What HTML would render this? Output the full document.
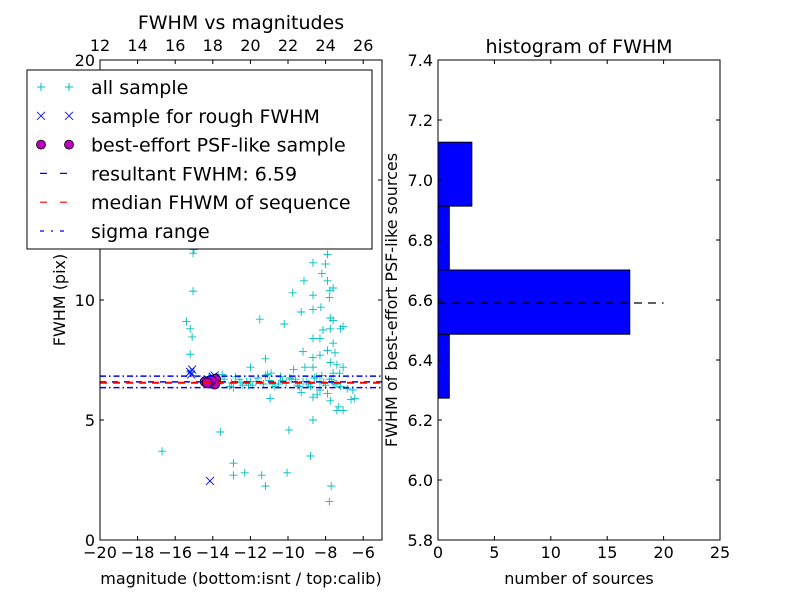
<!DOCTYPE html>
<html><head><meta charset="utf-8">
<style>
body{margin:0;background:#fff;}
svg text{font-family:"DejaVu Sans","Liberation Sans",sans-serif;fill:#000;}
</style></head>
<body>
<svg id="fig" width="800" height="600" xmlns="http://www.w3.org/2000/svg">
<rect width="800" height="600" fill="#fff"/>
<g id="left"></g>
<g id="right"></g>
</svg>
<script>
// ---- scatter data ----
const allX = [-15.05,-15.0,-15.05,-15.4,-15.2,-15.1,-15.2,-15.2,-16.7,-13.6,-12.9,-12.9,-12.3,-11.4,-11.2,-10.05,-9.95,-8.8,-8.67,-7.7,-7.8,-11.5,-10.2,-11.2,-12.0,-9.75,-9.15,-9.3,-8.67,-8.67,-8.67,-8.25,-8.0,-7.9,-8.2,-7.9,-7.77,-7.8,-7.6,-7.75,-7.6,-7.75,-8.14,-8.3,-8.67,-7.2,-7.07,-7.6,-7.5,-7.9,-9.2,-8.67,-8.3,-7.75,-7.4,-7.07,-9.7,-9.1,-8.67,-7.6,-7.25,-10.95,-8.67,-7.9,-7.75,-7.3,-7.4,-7.07,-6.65,-6.45,-6.55,-6.85,-7.2,-8.3,-8.45,-9.3,
-13.7,-13.4,-13.1,-12.8,-12.5,-12.2,-11.9,-11.6,-11.3,-11.0,-10.7,-10.4,-10.1,-9.8,-9.5,-9.2,-8.9,-8.6,-8.3,-8.0,-7.7,-7.4,-13.5,-13.0,-12.6,-12.1,-11.7,-11.2,-10.8,-10.3,-9.9,-9.4,-9.0,-8.5,-8.1,-7.8,-7.5,-12.9,-12.0,-11.1,-10.5,-9.6,-8.8,-8.2,-7.6,-14.2,-13.9,-12.4,-10.9];
const allY = [11.95,12.1,10.37,9.1,8.8,8.46,7.74,7.0,3.7,4.5,3.2,2.7,2.8,2.7,2.25,2.8,4.58,3.5,5.0,2.25,1.6,9.2,9.0,7.55,7.2,10.3,10.8,9.5,11.55,10.2,9.6,9.7,11.5,11.9,11.1,10.8,10.4,10.1,10.5,9.25,9.15,8.8,8.75,8.4,8.4,8.8,8.9,8.2,7.8,7.9,7.85,7.6,7.7,7.4,7.3,7.2,7.1,7.2,7.2,6.95,6.95,5.9,5.95,6.1,5.8,5.55,5.4,5.4,5.85,5.9,6.25,6.3,6.4,6.25,6.05,6.15,
6.5,6.7,6.4,6.8,6.55,6.6,6.45,6.75,6.5,6.65,6.4,6.8,6.55,6.7,6.45,6.6,6.5,6.75,6.6,6.45,6.7,6.5,6.9,6.55,6.7,6.45,6.6,6.85,6.5,6.65,6.75,6.4,6.6,6.8,6.55,6.7,6.5,6.35,6.6,6.9,6.5,6.7,6.4,6.85,6.55,6.8,6.75,6.45,6.95];
const roughX = [-15.2,-15.1,-15.15,-14.15,-14.0,-13.9,-14.3,-14.1];
const roughY = [7.0,7.1,6.9,2.46,6.8,6.85,6.6,6.65];
const bestX = [-14.4,-14.2,-14.0,-13.85,-13.9,-14.1,-14.3];
const bestY = [6.6,6.55,6.6,6.7,6.5,6.65,6.55];
const resultFWHM = 6.59;
const medianFWHM = 6.55;
const sigmaRange = [6.35,6.83];
const xTicks = [-20,-18,-16,-14,-12,-10,-8,-6];
const topTicks = [12,14,16,18,20,22,24,26];
const yTicks = [0,5,10,15,20];
// ---- histogram data ----
const binEdges = [6.273,6.486,6.70,6.913,7.126];
const binCounts = [1,17,1,3];
const hxTicks = [0,5,10,15,20,25];
const hyTicks = [5.8,6.0,6.2,6.4,6.6,6.8,7.0,7.2,7.4];

const NS="http://www.w3.org/2000/svg";
function mk(parent,tag,attrs,txt){const e=document.createElementNS(NS,tag);for(const k in attrs)e.setAttribute(k,attrs[k]);if(txt!==undefined)e.textContent=txt;parent.appendChild(e);return e;}

// Left axes
const L={x0:100,x1:382,y0:60,y1:540};
const sx=v=>L.x0+(v+20)/15*(L.x1-L.x0);
const sy=v=>L.y1-v/20*(L.y1-L.y0);
const gl=document.getElementById('left');
mk(gl,'defs',{}).innerHTML='<clipPath id="clipL"><rect x="100" y="60" width="282" height="480"/></clipPath>';
const plot=mk(gl,'g',{'clip-path':'url(#clipL)'});


allX.forEach((x,i)=>{const X=sx(x),Y=sy(allY[i]);
 const p=mk(plot,'path',{d:`M${X-4},${Y}H${X+4}M${X},${Y-4}V${Y+4}`,stroke:'#00bfbf','stroke-width':0.9,fill:'none'});
 
 });
roughX.forEach((x,i)=>{const X=sx(x),Y=sy(roughY[i]);
 const p=mk(plot,'path',{d:`M${X-4},${Y-4}L${X+4},${Y+4}M${X-4},${Y+4}L${X+4},${Y-4}`,stroke:'#0000ff','stroke-width':0.9,fill:'none'});
 
 });
bestX.forEach((x,i)=>{const c=mk(plot,'circle',{cx:sx(x),cy:sy(bestY[i]),r:5,fill:'#bf00bf',stroke:'#000','stroke-width':0.8});
 
 });
let ln=mk(plot,'line',{x1:100,x2:382,y1:sy(resultFWHM),y2:sy(resultFWHM),stroke:'#0000ff','stroke-width':1.5,'stroke-dasharray':'6,6'});

ln=mk(plot,'line',{x1:100,x2:382,y1:sy(medianFWHM),y2:sy(medianFWHM),stroke:'#ff0000','stroke-width':2,'stroke-dasharray':'7,6'});

sigmaRange.forEach(s=>{const l=mk(plot,'line',{x1:100,x2:382,y1:sy(s),y2:sy(s),stroke:'#0000ff','stroke-width':1.5,'stroke-dasharray':'6,3,1.5,3'});
 });
mk(gl,'rect',{x:100,y:60,width:282,height:480,fill:'none',stroke:'#000','stroke-width':1});
xTicks.forEach(t=>{const X=sx(t);mk(gl,'path',{d:`M${X},540v-4`,stroke:'#000'});
 const tx=mk(gl,'text',{x:X,y:558,'font-size':16,'text-anchor':'middle'},(t<0?'\u2212':'')+Math.abs(t));
 });
topTicks.forEach(t=>{const X=sx(t-32);mk(gl,'path',{d:`M${X},60v4`,stroke:'#000'});
 const tx=mk(gl,'text',{x:X,y:51,'font-size':16,'text-anchor':'middle'},t);
 });
yTicks.forEach(t=>{const Y=sy(t);mk(gl,'path',{d:`M100,${Y}h4M382,${Y}h-4`,stroke:'#000'});
 const tx=mk(gl,'text',{x:95,y:Y+6,'font-size':16,'text-anchor':'end'},t);
 });
let t=mk(gl,'text',{x:241,y:29,'font-size':19,'text-anchor':'middle'},'FWHM vs magnitudes');

t=mk(gl,'text',{x:241,y:584,'font-size':16,'text-anchor':'middle'},'magnitude (bottom:isnt / top:calib)');

t=mk(gl,'text',{x:0,y:0,'font-size':16,'text-anchor':'middle',transform:'translate(65,300) rotate(-90)'},'FWHM (pix)');


// legend
const lg=mk(gl,'g',{});

mk(lg,'rect',{x:27,y:70,width:345,height:179,fill:'#fff',stroke:'#000','stroke-width':1});
const labels=['all sample','sample for rough FWHM','best-effort PSF-like sample','resultant FWHM: 6.59','median FHWM of sequence','sigma range'];
labels.forEach((s,i)=>{const Y=87+i*28.8;
 const e=mk(lg,'g',{});
 [41,69].forEach(X=>{
  if(i==0)mk(e,'path',{d:`M${X-4},${Y}H${X+4}M${X},${Y-4}V${Y+4}`,stroke:'#00bfbf'});
  if(i==1)mk(e,'path',{d:`M${X-4},${Y-4}L${X+4},${Y+4}M${X-4},${Y+4}L${X+4},${Y-4}`,stroke:'#0000ff','stroke-width':0.8});
  if(i==2)mk(e,'circle',{cx:X,cy:Y,r:4.5,fill:'#bf00bf',stroke:'#000','stroke-width':0.8});
 });
 if(i==3)mk(e,'path',{d:`M40,${Y}h7M60,${Y}h7`,stroke:'#0000ff','stroke-width':1.2});
 if(i==4)mk(e,'path',{d:`M40,${Y}h7M60,${Y}h7`,stroke:'#ff0000','stroke-width':1.2});
 if(i==5)mk(e,'path',{d:`M40,${Y}h4M51,${Y}h2M60,${Y}h4`,stroke:'#0000ff','stroke-width':1.2});
 mk(e,'text',{x:91,y:Y+7,'font-size':19},s);
});

// Right histogram
const R={x0:438,x1:720,y0:60,y1:540};
const hx=v=>R.x0+v/25*(R.x1-R.x0);
const hy=v=>R.y1-(v-5.8)/1.6*(R.y1-R.y0);
const gr=document.getElementById('right');
binCounts.forEach((c,i)=>{const r=mk(gr,'rect',{x:hx(0),y:hy(binEdges[i+1]),width:hx(c)-hx(0),height:hy(binEdges[i])-hy(binEdges[i+1]),fill:'#0000ff',stroke:'#000','stroke-width':1});
 });
ln=mk(gr,'line',{x1:hx(0),x2:hx(20),y1:hy(resultFWHM),y2:hy(resultFWHM),stroke:'#000','stroke-width':1.2,'stroke-dasharray':'8,6'});

mk(gr,'rect',{x:438,y:60,width:282,height:480,fill:'none',stroke:'#000','stroke-width':1});
hxTicks.forEach(v=>{const X=hx(v);mk(gr,'path',{d:`M${X},540v-4M${X},60v4`,stroke:'#000'});
 const tx=mk(gr,'text',{x:X,y:558,'font-size':16,'text-anchor':'middle'},v);
 });
hyTicks.forEach(v=>{const Y=hy(v);mk(gr,'path',{d:`M438,${Y}h4M720,${Y}h-4`,stroke:'#000'});
 const tx=mk(gr,'text',{x:433,y:Y+6,'font-size':16,'text-anchor':'end'},v.toFixed(1));
 });
t=mk(gr,'text',{x:579,y:53,'font-size':19,'text-anchor':'middle'},'histogram of FWHM');

t=mk(gr,'text',{x:579,y:584,'font-size':16,'text-anchor':'middle'},'number of sources');

t=mk(gr,'text',{x:0,y:0,'font-size':16,'text-anchor':'middle',transform:'translate(397,300) rotate(-90)'},'FWHM of best-effort PSF-like sources');

</script>
</body></html>
